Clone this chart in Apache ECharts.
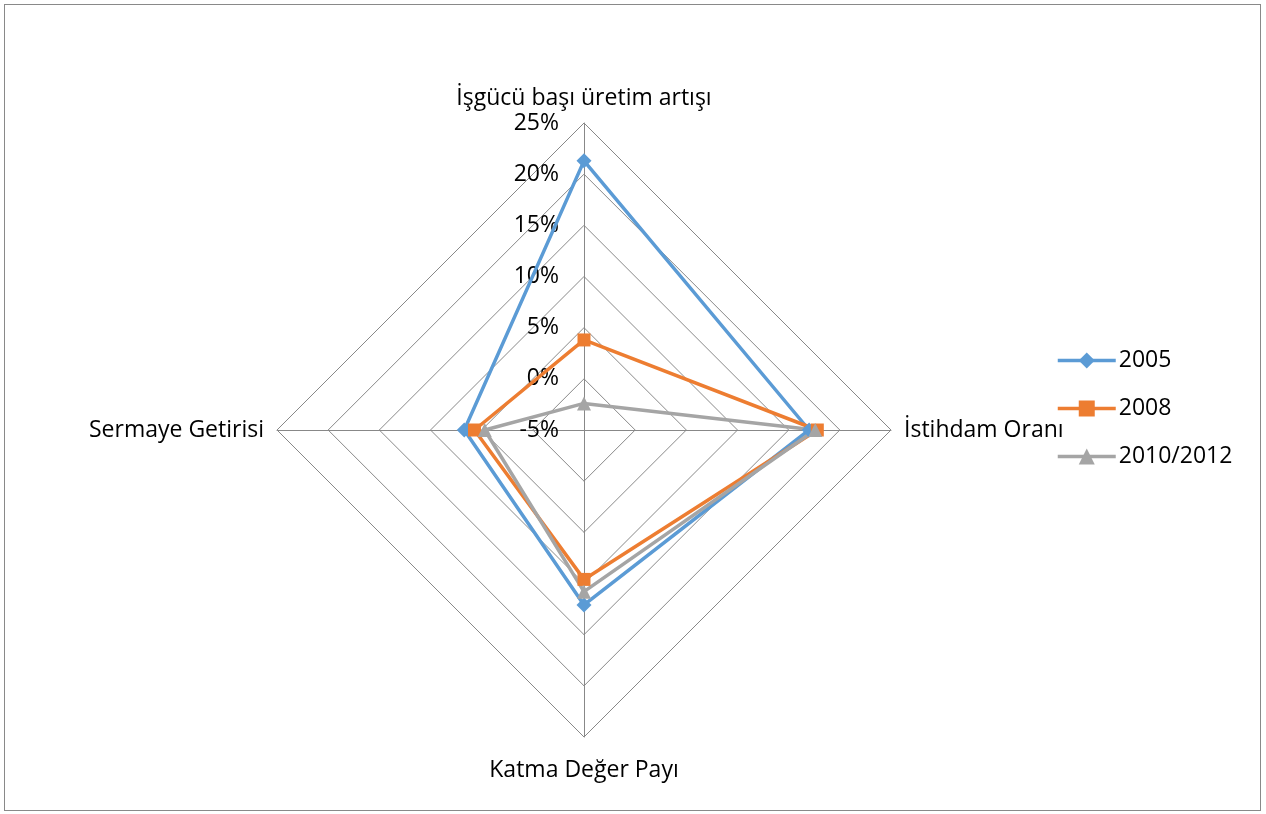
<!DOCTYPE html>
<html><head><meta charset="utf-8">
<script src="https://cdn.jsdelivr.net/npm/echarts@6/dist/echarts.min.js"></script>
<style>html,body{margin:0;padding:0;background:#fff}
#frame{position:absolute;left:4px;top:4px;width:1257px;height:807px;border:1px solid #898989;box-sizing:border-box}
#c{position:absolute;left:0;top:0;width:1266px;height:814px}</style>
</head><body><div id="frame"></div><div id="c"></div>
<script>
const indicators = ['İşgücü başı üretim artışı', 'Sermaye Getirisi', 'Katma Değer Payı', 'İstihdam Oranı'];
const seriesNames = ['2005', '2008', '2010/2012'];
const v2005 = [21.3, 6.7, 12.1, 17.0];
const v2008 = [3.8, 5.7, 9.6, 17.8];
const v2010 = [-2.4, 4.7, 10.8, 17.6];
const tickLabels = ['-5%', '0%', '5%', '10%', '15%', '20%', '25%'];
const axisMin = -5, axisMax = 25, step = 5;

const colors = ['#5B9BD5', '#ED7D31', '#A5A5A5'];
const symbols = ['diamond', 'rect', 'triangle'];
const sizes = [15, 13, 14];
const font = '"Open Sans", "Liberation Sans", sans-serif';
const chart = echarts.init(document.getElementById('c'));
const cx = 584, cy = 430, R = 307;
chart.setOption({
  animation: false,
  color: colors,
  textStyle: {fontFamily: font},
  legend: {
    orient: 'vertical', left: 1051, top: 344, itemGap: 25, itemWidth: 58, itemHeight: 20,
    lineStyle: {width: 3.5},
    textStyle: {fontSize: 23, color: '#000', fontFamily: font, padding: [0, 0, 0, -2]},
    data: seriesNames
  },
  radar: {
    center: [cx, cy], radius: R, shape: 'polygon', splitNumber: 6, startAngle: 90,
    indicator: indicators.map(n => ({name: n, min: axisMin, max: axisMax})),
    axisName: {
      color: '#000', fontSize: 23, fontFamily: font,
      formatter: n => n === indicators[2] ? '{b|' + n + '}' : '{a|' + n + '}',
      rich: {
        a: {fontSize: 23, fontFamily: font, color: '#000'},
        b: {fontSize: 23, fontFamily: font, color: '#000', padding: [9, 0, 0, 0]}
      }
    },
    nameGap: 13,
    axisLine: {lineStyle: {color: '#888', width: 1}},
    splitLine: {lineStyle: {color: '#888', width: 1}},
    splitArea: {show: false},
    axisLabel: {show: false}
  },
  grid: {left: cx, top: cy - R, width: 1, height: R},
  xAxis: {type: 'value', show: false},
  yAxis: {
    type: 'value', min: axisMin, max: axisMax, interval: step,
    axisLine: {show: false}, axisTick: {show: false}, splitLine: {show: false},
    axisLabel: {fontSize: 23, color: '#000', margin: 25, fontFamily: font,
      formatter: v => tickLabels[Math.round((v - axisMin) / step)]}
  },
  series: [{
    type: 'radar',
    data: [v2005, v2008, v2010].map((d, i) => ({
      name: seriesNames[i], value: d, symbol: symbols[i], symbolSize: sizes[i],
      lineStyle: {width: 3.5, color: colors[i]},
      itemStyle: {color: colors[i]}
    }))
  }].concat(seriesNames.map((n, i) => ({
    type: 'line', name: n, data: [], symbol: symbols[i], symbolSize: sizes[i],
    lineStyle: {width: 3.5, color: colors[i]}, itemStyle: {color: colors[i]}
  })))
});
</script></body></html>
